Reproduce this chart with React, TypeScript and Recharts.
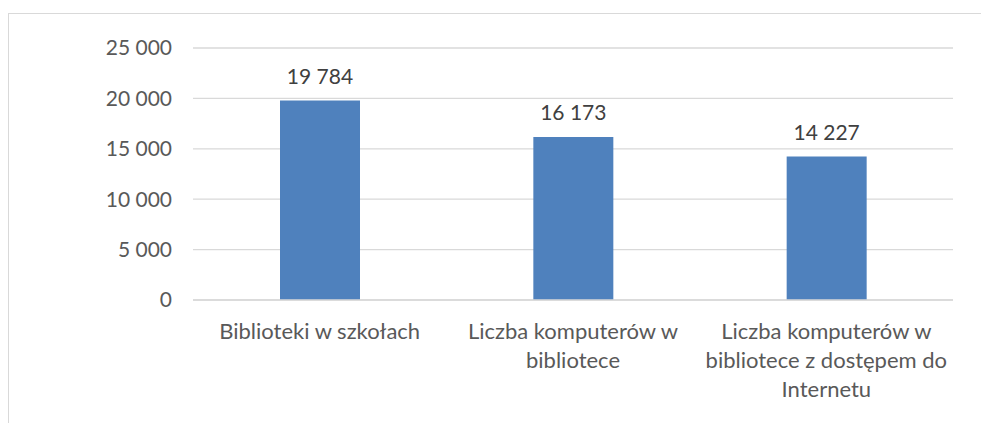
import { Bar, BarChart, CartesianGrid, LabelList, XAxis, YAxis } from "recharts";

const categories = [
  "Biblioteki w szkołach",
  "Liczba komputerów w bibliotece",
  "Liczba komputerów w bibliotece z dostępem do Internetu",
];

const categoryLines: string[][] = [
  ["Biblioteki w szkołach"],
  ["Liczba komputerów w", "bibliotece"],
  ["Liczba komputerów w", "bibliotece z dostępem do", "Internetu"],
];

const values = [19784, 16173, 14227];

const yTicks = [0, 5000, 10000, 15000, 20000, 25000];

const chartData = categories.map((name, i) => ({ name, value: values[i] }));

const FONT = "Lato, 'Open Sans', sans-serif";

function formatNumber(value: number) {
  return String(value).replace(/\B(?=(\d{3})+(?!\d))/g, " ");
}

function CategoryTick({ x, y, payload }: any) {
  const lines = categoryLines[categories.indexOf(payload.value)] ?? [payload.value];
  return (
    <g transform={`translate(${x},${y})`}>
      {lines.map((line, i) => (
        <text
          key={i}
          x={0}
          y={30 + i * 29}
          textAnchor="middle"
          dominantBaseline="central"
          fill="#595959"
          fontSize={22}
          fontFamily={FONT}
        >
          {line}
        </text>
      ))}
    </g>
  );
}

export default function App() {
  return (
    <div style={{ position: "relative", width: 981, height: 415 }}>
      <div
        style={{
          position: "absolute",
          left: 0,
          top: 5,
          right: 0,
          bottom: 0,
          borderTop: "1px solid #d9d9d9",
          borderLeft: "1px solid #d9d9d9",
        }}
      />
      <BarChart
        width={981}
        height={415}
        data={chartData}
        margin={{ top: 40, right: 36, left: 0, bottom: 23 }}
        style={{ position: "absolute", left: 0, top: 0 }}
      >
        <CartesianGrid vertical={false} stroke="#d9d9d9" strokeWidth={1.3} />
        <XAxis
          dataKey="name"
          axisLine={{ stroke: "#d9d9d9", strokeWidth: 1.3 }}
          tickLine={false}
          tickSize={0}
          tickMargin={0}
          height={100}
          interval={0}
          tick={<CategoryTick />}
        />
        <YAxis
          domain={[0, 25000]}
          ticks={yTicks}
          width={185}
          axisLine={false}
          tickLine={false}
          tickSize={0}
          tickMargin={21}
          tick={{ fontSize: 21, fill: "#595959", fontFamily: FONT }}
          tickFormatter={(value: number) => formatNumber(value)}
        />
        <Bar dataKey="value" fill="#4f81bd" barSize={80} isAnimationActive={false}>
          <LabelList
            dataKey="value"
            position="top"
            offset={17}
            fill="#404040"
            fontSize={21}
            fontFamily={FONT}
            formatter={(value: any) => formatNumber(Number(value))}
          />
        </Bar>
      </BarChart>
    </div>
  );
}
